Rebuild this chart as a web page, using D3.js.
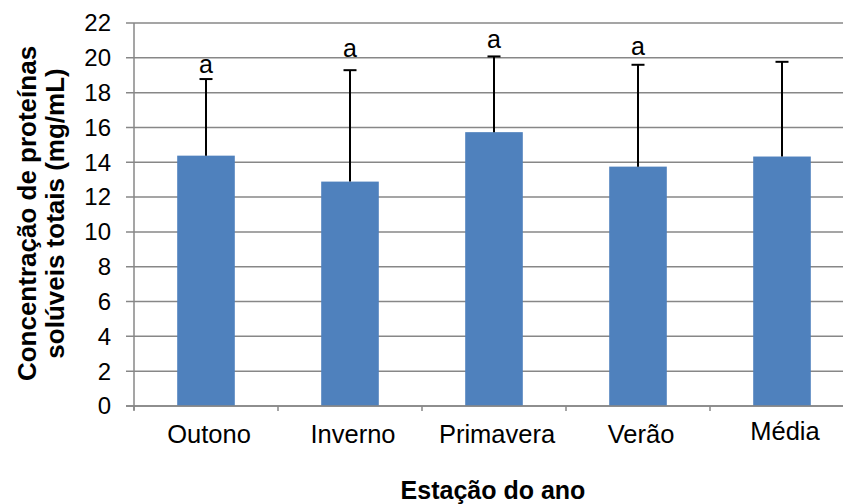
<!DOCTYPE html>
<html>
<head>
<meta charset="utf-8">
<script src="https://cdn.jsdelivr.net/npm/d3@7"></script>
<style>
  html, body { margin: 0; padding: 0; background: #fff; }
  svg { display: block; font-family: "Liberation Sans", Arial, sans-serif; }
</style>
</head>
<body>
<svg id="chart" width="843" height="504"></svg>
<script>
// Soluble protein concentration by season
const seasons = ["Outono", "Inverno", "Primavera", "Verão", "Média"];
const means = [14.38, 12.89, 15.73, 13.75, 14.33];
const errPlus = [4.40, 6.40, 4.35, 5.85, 5.44];
const letters = ["a", "a", "a", "a", ""];
const letterAt = [19.12, 20.07, 20.56, 20.17, 0];
const yTicks = [0, 2, 4, 6, 8, 10, 12, 14, 16, 18, 20, 22];

const svg = d3.select("#chart");
const plot = { left: 134, right: 854, top: 23, bottom: 406 };
const gridColor = "#878787";
const barColor = "#4F81BD";

const y = d3.scaleLinear().domain([0, 22]).range([plot.bottom, plot.top]);
const x = d3.scaleBand().domain(seasons).range([plot.left, plot.right]).padding(0);
const barW = x.bandwidth() * 0.4;

// horizontal gridlines with short ticks left of the axis
svg.append("g")
  .selectAll("line")
  .data(yTicks)
  .join("line")
  .attr("x1", plot.left - 8)
  .attr("x2", plot.right)
  .attr("y1", d => y(d))
  .attr("y2", d => y(d))
  .attr("stroke", gridColor)
  .attr("stroke-width", 1.5);

// y tick labels
svg.append("g")
  .selectAll("text")
  .data(yTicks)
  .join("text")
  .attr("x", plot.left - 23)
  .attr("y", d => y(d))
  .attr("dy", "0.35em")
  .attr("text-anchor", "end")
  .attr("font-size", 24)
  .attr("fill", "#000")
  .text(d => d);

// bars
svg.append("g")
  .selectAll("rect")
  .data(seasons)
  .join("rect")
  .attr("x", d => x(d) + (x.bandwidth() - barW) / 2)
  .attr("y", (d, i) => y(means[i]))
  .attr("width", barW)
  .attr("height", (d, i) => y(0) - y(means[i]))
  .attr("fill", barColor);

// axes lines
svg.append("line")
  .attr("x1", plot.left).attr("x2", plot.left)
  .attr("y1", plot.top).attr("y2", plot.bottom + 4)
  .attr("stroke", gridColor).attr("stroke-width", 1.5);
svg.append("line")
  .attr("x1", plot.left - 8).attr("x2", plot.right)
  .attr("y1", plot.bottom).attr("y2", plot.bottom)
  .attr("stroke", gridColor).attr("stroke-width", 1.5);

// x category boundary ticks
svg.append("g")
  .selectAll("line")
  .data(seasons)
  .join("line")
  .attr("x1", d => x(d))
  .attr("x2", d => x(d))
  .attr("y1", plot.bottom)
  .attr("y2", plot.bottom + 5)
  .attr("stroke", gridColor)
  .attr("stroke-width", 1.5);

// positive error bars
const eb = svg.append("g").attr("stroke", "#000").attr("stroke-width", 2);
seasons.forEach((s, i) => {
  const cx = x(s) + x.bandwidth() / 2;
  const top = y(means[i] + errPlus[i]);
  eb.append("line").attr("x1", cx).attr("x2", cx)
    .attr("y1", y(means[i])).attr("y2", top);
  eb.append("line").attr("x1", cx - 6.5).attr("x2", cx + 6.5)
    .attr("y1", top).attr("y2", top);
});

// significance letters
svg.append("g")
  .selectAll("text")
  .data(seasons)
  .join("text")
  .attr("x", d => x(d) + x.bandwidth() / 2)
  .attr("y", (d, i) => y(letterAt[i]))
  .attr("text-anchor", "middle")
  .attr("font-size", 25)
  .attr("fill", "#000")
  .text((d, i) => letters[i]);

// category labels
svg.append("g")
  .selectAll("text")
  .data(seasons)
  .join("text")
  .attr("x", d => x(d) + x.bandwidth() / 2 + 3)
  .attr("y", d => d === "Média" ? 440 : 443)
  .attr("text-anchor", "middle")
  .attr("font-size", 25.5)
  .attr("fill", "#000")
  .text(d => d);

// x axis title
svg.append("text")
  .attr("x", (plot.left + plot.right) / 2 - 1)
  .attr("y", 499)
  .attr("text-anchor", "middle")
  .attr("font-size", 25)
  .attr("font-weight", "bold")
  .attr("fill", "#000")
  .text("Estação do ano");

// y axis title, two lines
const yt = svg.append("text")
  .attr("transform", `translate(0, ${(plot.top + plot.bottom) / 2 - 1}) rotate(-90)`)
  .attr("text-anchor", "middle")
  .attr("font-size", 26)
  .attr("font-weight", "bold")
  .attr("fill", "#000");
yt.append("tspan").attr("x", 0).attr("y", 36).text("Concentração de proteínas");
yt.append("tspan").attr("x", 0).attr("y", 64).text("solúveis totais (mg/mL)");
</script>
</body>
</html>
